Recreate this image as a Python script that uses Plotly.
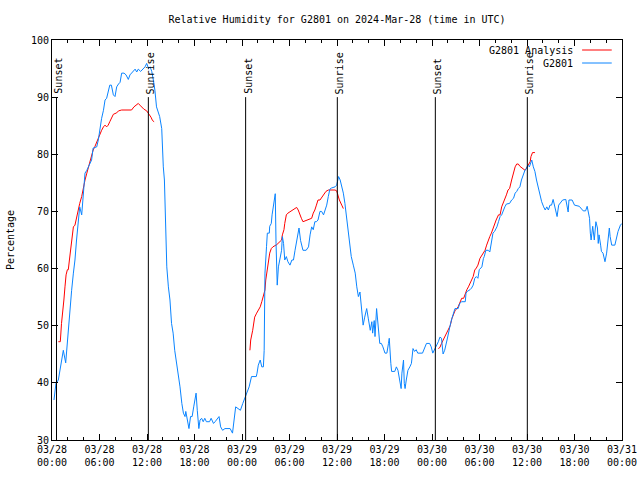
import pandas as pd
import plotly.graph_objects as go

# ---------------- data ----------------
START = "2024-03-28 00:00"

# G2801 observations: hours since 2024-03-28 00:00 UTC, relative humidity (%)
obs_hours = [
    0.25, 0.5, 0.8, 1.0, 1.43, 1.73, 1.85, 2.06, 2.27, 2.48, 2.7, 2.9, 3.1, 3.3, 3.5, 3.75, 3.95,
    4.17, 4.4, 4.8, 5.0, 5.2, 5.65, 5.85, 6.06, 6.27, 6.5, 6.7, 6.9, 7.1, 7.3, 7.5, 7.75, 7.96,
    8.17, 8.4, 8.6, 8.8, 9.1, 9.35, 9.64, 9.85, 10.2, 10.5, 10.7, 10.9, 11.2, 11.5, 11.75, 11.96,
    12.2, 12.4, 12.6, 12.8, 13.0, 13.2, 13.4, 13.6, 13.86, 13.93, 14.06, 14.2, 14.27, 14.36, 14.5,
    14.7, 14.9, 15.1, 15.3, 15.5, 15.75, 15.96, 16.17, 16.4, 16.6, 16.8, 16.9, 17.1, 17.3, 17.5,
    17.7, 17.9, 18.2, 18.35, 18.55, 18.7, 18.9, 19.1, 19.3, 19.5, 19.9, 20.1, 20.4, 20.6, 20.8,
    21.1, 21.3, 21.55, 21.85, 22.5, 22.8, 23.0, 23.2, 23.5, 23.8, 24.1, 24.4, 24.7, 24.9, 25.2,
    25.8, 25.9, 26.06, 26.3, 26.5, 26.7, 26.8, 26.9, 27.0, 27.1, 27.2, 27.45, 27.5, 27.7, 27.8,
    27.95, 28.1, 28.2, 28.3, 28.45, 28.6, 28.8, 29.0, 29.1, 29.25, 29.4, 29.6, 29.8, 30.06, 30.3,
    30.5, 30.7, 30.9, 31.1, 31.2, 31.4, 31.5, 31.7, 32.1, 32.4, 32.6, 32.8, 33.0, 33.2, 33.4, 33.6,
    33.85, 34.06, 34.3, 34.5, 34.7, 34.9, 35.1, 35.3, 35.75, 35.96, 36.2, 36.4, 36.6, 36.8, 37.0,
    37.2, 37.4, 37.6, 37.8, 38.06, 38.3, 38.5, 38.7, 38.9, 39.1, 39.3, 39.5, 39.75, 39.96, 40.2,
    40.4, 40.5, 40.7, 40.8, 41.0, 41.2, 41.4, 41.6, 41.8, 42.06, 42.3, 42.5, 42.6, 42.8, 42.9,
    43.3, 43.5, 43.7, 43.96, 44.1, 44.2, 44.4, 44.5, 44.6, 44.75, 44.96, 45.2, 45.4, 45.6, 45.8,
    46.0, 46.2, 46.8, 47.0, 47.3, 47.7, 47.9, 48.1, 48.4, 48.6, 48.8, 49.0, 49.2, 49.4, 49.6,
    49.9, 50.1, 50.3, 50.5, 50.7, 50.9, 51.3, 51.5, 51.75, 52.2, 52.3, 52.45, 52.8, 53.0, 53.2,
    53.4, 53.6, 53.8, 53.97, 54.3, 54.5, 54.6, 54.8, 55.1, 55.3, 55.5, 55.7, 55.9, 56.2, 56.4,
    56.6, 56.8, 57.0, 57.2, 57.4, 57.8, 58.06, 58.3, 58.5, 58.7, 58.9, 59.1, 59.3, 59.5, 59.75,
    59.9, 60.1, 60.3, 60.6, 60.8, 61.0, 61.2, 61.4, 61.6, 61.85, 62.1, 62.3, 62.5, 62.7, 62.9,
    63.1, 63.3, 63.5, 63.7, 63.8, 64.0, 64.5, 64.9, 65.1, 65.2, 65.3, 65.7, 66.0, 66.6, 67.1,
    67.4, 67.6, 67.7, 67.9, 68.0, 68.1, 68.3, 68.4, 68.5, 68.7, 68.9, 69.0, 69.1, 69.3, 69.4,
    69.6, 69.85, 70.06, 70.3, 70.4, 70.5, 70.7, 71.1, 71.3, 71.5, 71.8, 72.0,
]
obs_rh = [
    37.0, 39.9, 40.5, 42.2, 45.7, 43.5, 45.7, 48.7, 52.2, 56.2, 59.2, 61.5, 65.0, 68.5, 70.8, 69.4, 73.2,
    76.7, 77.2, 78.4, 79.0, 81.1, 81.3, 82.5, 84.8, 86.3, 87.7, 89.5, 89.8, 91.2, 92.1, 92.1, 90.4, 90.1,
    91.8, 92.3, 92.6, 94.2, 94.2, 93.9, 93.1, 93.9, 94.5, 94.9, 94.4, 94.9, 94.5, 95.0, 95.3, 95.9,
    95.0, 95.3, 94.5, 93.0, 91.2, 88.3, 87.4, 86.6, 84.5, 80.8, 77.8, 75.5, 70.8, 65.0, 60.3,
    56.8, 54.5, 50.4, 48.7, 45.7, 43.4, 41.7, 39.3, 36.4, 34.7, 34.1, 35.0, 33.5, 32.0, 34.1,
    34.1, 35.8, 38.2, 35.2, 32.0, 33.5, 33.8, 33.2, 33.8, 33.2, 33.2, 33.8, 32.9, 33.2, 33.5,
    34.1, 32.3, 31.7, 32.0, 32.0, 31.2, 33.5, 35.8, 35.5, 35.2, 36.4, 37.6, 38.4, 39.3, 41.1,
    41.1, 41.7, 43.1, 44.0, 42.8, 42.8, 45.7, 59.2, 60.9, 63.9, 66.2, 66.2, 67.4, 67.9, 69.4,
    70.8, 72.6, 73.1, 64.4, 57.1, 60.3, 61.5, 63.2, 65.6, 64.4, 61.5, 62.1, 61.2, 60.6, 61.5,
    61.5, 63.2, 64.9, 66.8, 67.1, 64.9, 64.1, 63.2, 63.2, 63.8, 65.9, 67.3, 66.8, 68.2, 68.2, 68.5,
    70.0, 70.0, 69.4, 70.25, 71.1, 72.6, 73.9, 74.1, 74.3, 74.6, 76.1, 75.5, 74.3, 73.2, 71.4,
    69.1, 66.2, 63.8, 62.1, 60.6, 59.2, 56.8, 55.1, 55.9, 52.2, 50.1, 51.5, 53.0, 51.2, 49.2,
    50.7, 48.7, 50.9, 48.1, 53.0, 49.8, 46.9, 46.9, 46.3, 45.2, 45.2, 46.9, 47.8, 43.4, 42.0,
    42.0, 42.8, 42.2, 40.5, 39.0, 41.7, 44.0, 39.9, 39.0, 40.5, 42.2, 42.8, 43.4, 46.0, 45.5,
    45.8, 45.2, 45.2, 46.0, 46.9, 46.9, 46.3, 45.2, 46.0, 46.6, 47.2, 48.0, 47.8, 45.05, 45.7,
    47.5, 49.0, 50.1, 51.2, 52.2, 53.0, 53.0, 53.9, 54.2, 54.2, 55.7, 56.0, 56.3, 56.6, 57.1,
    58.3, 58.6, 58.3, 59.8, 60.3, 61.8, 62.1, 63.2, 63.2, 62.9, 64.4, 66.2, 66.5, 67.3, 68.2,
    69.1, 69.4, 70.25, 70.8, 71.3, 71.4, 72.0, 72.3, 73.2, 73.5, 74.0, 74.3, 75.5, 76.4, 77.25,
    77.4, 78.1, 77.8, 79.0, 77.8, 77.0, 75.5, 74.3, 72.8, 71.7, 70.8, 70.25, 70.8, 70.25, 71.1,
    71.1, 72.1, 70.9, 69.4, 69.1, 71.1, 72.0, 72.1, 70.8, 69.9, 72.0, 72.0, 71.1, 70.9, 70.1,
    70.1, 70.9, 70.25, 68.8, 66.2, 65.0, 67.4, 66.2, 65.0, 68.2, 67.1, 64.4, 65.9, 64.1, 63.0,
    62.7, 61.2, 62.7, 66.2, 67.1, 65.6, 64.1, 64.1, 65.6, 66.5, 67.6, 67.9,
]

# G2801 Analysis: three separate segments (hours since start, RH %)
ana1_hours = [0.8, 1.05, 1.2, 1.35, 1.5, 1.64, 1.78, 1.94, 2.06, 2.2, 2.36, 2.5, 2.7, 2.9, 3.1, 3.3,
              3.5, 3.75, 3.96, 4.17, 4.4, 4.6, 4.8, 5.0, 5.2, 5.4, 5.65, 5.85, 6.06, 6.27, 6.5, 6.7,
              6.9, 7.1, 7.3, 7.5, 7.75, 8.17, 8.4, 8.8, 10.05, 10.35, 10.6, 10.9, 11.1, 11.3, 11.6,
              11.96, 12.2, 12.5, 12.7, 12.9]
ana1_rh = [47.2, 47.2, 50.4, 53.3, 54.5, 56.8, 58.9, 59.8, 59.8, 61.5, 63.5, 65.0, 67.3, 67.6, 69.1, 70.2,
           71.4, 72.6, 74.3, 75.5, 76.7, 77.8, 79.0, 79.6, 80.75, 81.3, 82.2, 82.8, 83.4, 84.2, 84.8, 85.1,
           84.8, 85.1, 85.7, 86.4, 87.0, 87.25, 87.6, 87.75, 87.75, 88.3, 88.6, 88.9, 88.6, 88.3, 87.9,
           87.6, 87.2, 86.5, 85.9, 85.7]
ana2_hours = [25.0, 25.1, 25.35, 25.5, 25.6, 25.85, 26.06, 26.3, 26.5, 26.7, 26.9, 27.0, 27.2, 27.3,
              27.5, 27.7, 27.9, 28.4, 28.8, 29.0, 29.1, 29.3, 29.4, 29.6, 29.8, 30.3, 30.7, 30.9, 31.1,
              31.3, 31.5, 31.7, 32.3, 32.8, 33.0, 33.2, 33.4, 33.6, 33.85, 34.06, 34.3, 34.6, 34.9,
              35.75, 35.96, 36.1, 36.3, 36.6, 36.8]
ana2_rh = [45.7, 47.5, 49.2, 50.7, 51.5, 52.2, 52.8, 53.3, 54.2, 55.1, 56.25, 58.0, 59.75, 60.9,
           62.7, 63.5, 63.8, 64.2, 64.7, 65.0, 65.9, 66.8, 67.9, 69.4, 69.7, 70.1, 70.5, 70.7, 70.25,
           69.4, 68.8, 68.2, 68.6, 68.8, 69.7, 70.25, 71.1, 72.0, 72.0, 72.4, 72.9, 73.5, 73.75,
           73.75, 73.6, 72.9, 72.0, 71.1, 70.5]
ana3_hours = [48.8, 49.0, 49.2, 49.4, 49.6, 49.85, 50.1, 50.3, 50.5, 50.7, 50.9, 51.3, 51.5, 51.75,
              52.0, 52.2, 52.4, 52.6, 52.8, 53.0, 53.2, 53.4, 53.6, 53.8, 54.06, 54.3, 54.5, 54.7,
              54.9, 55.1, 55.3, 55.5, 55.75, 55.9, 56.1, 56.4, 56.6, 56.8, 57.0, 57.2, 57.4, 57.6,
              57.8, 58.06, 58.3, 58.5, 58.7, 58.9, 59.1, 59.3, 59.5, 59.75, 59.9, 60.1, 60.4, 60.5,
              60.7, 61.0]
ana3_rh = [46.0, 46.2, 46.9, 47.5, 47.8, 48.7, 49.5, 50.0, 51.2, 51.8, 52.6, 53.3, 54.0, 54.8,
           54.8, 55.7, 56.3, 56.8, 57.3, 58.0, 58.6, 59.75, 60.1, 60.6, 61.8, 62.4, 62.7, 63.2,
           64.1, 65.0, 65.6, 66.2, 67.3, 67.9, 68.5, 69.4, 69.4, 70.8, 71.4, 72.0, 72.9, 73.75,
           74.0, 75.5, 76.7, 77.8, 78.3, 78.3, 77.9, 77.7, 77.5, 77.2, 77.5, 78.1, 78.7, 79.6,
           80.3, 80.3]

# Sun events (hours since start)
event_labels = ["Sunset", "Sunrise", "Sunset", "Sunrise", "Sunset", "Sunrise"]
event_hours = [0.57, 12.17, 24.46, 36.04, 48.42, 60.04]

title_text = "Relative Humidity for G2801 on 2024-Mar-28 (time in UTC)"
y_title = "Percentage"
legend_names = ["G2801 Analysis", "G2801"]
colors = ["#ff0000", "#0a84ff"]

# ---------------- build ----------------
base = pd.Timestamp(START)


def to_time(hours):
    return [base + pd.Timedelta(hours=h) for h in hours]


ana_x, ana_y = [], []
for hh, vv in [(ana1_hours, ana1_rh), (ana2_hours, ana2_rh), (ana3_hours, ana3_rh)]:
    ana_x += to_time(hh) + [None]
    ana_y += list(vv) + [None]

FONT = "DejaVu Sans Mono"
W, H = 640, 480

fig = go.Figure()
fig.add_trace(go.Scatter(x=ana_x, y=ana_y, mode="lines", name=legend_names[0],
                         line=dict(color=colors[0], width=1), connectgaps=False,
                         showlegend=False))
fig.add_trace(go.Scatter(x=to_time(obs_hours), y=obs_rh, mode="lines", name=legend_names[1],
                         line=dict(color=colors[1], width=1), showlegend=False))

for lab, h in zip(event_labels, event_hours):
    t = base + pd.Timedelta(hours=h)
    fig.add_shape(type="line", xref="x", yref="y", x0=t, x1=t, y0=30, y1=90,
                  line=dict(color="black", width=1))
    fig.add_annotation(x=t, y=90, xref="x", yref="y", text=lab, textangle=-90,
                       showarrow=False, xanchor="center", yanchor="bottom",
                       xshift=2, yshift=1, font=dict(family=FONT, size=10, color="black"))

# gnuplot-style legend: text right-aligned, sample line to its right
for i, (nm, c) in enumerate(zip(legend_names, colors)):
    yp = 0.975 - i * 0.0325
    fig.add_annotation(x=0.9175, y=yp, xref="paper", yref="paper", text=nm, showarrow=False,
                       xanchor="right", yanchor="middle",
                       font=dict(family=FONT, size=10, color="black"))
    fig.add_shape(type="line", xref="paper", yref="paper", x0=0.930, x1=0.982, y0=yp, y1=yp,
                  line=dict(color=c, width=1))

fig.update_layout(
    width=W, height=H,
    margin=dict(l=52, r=18, t=40, b=40, autoexpand=False),
    paper_bgcolor="white", plot_bgcolor="white",
    font=dict(family=FONT, size=10, color="black"),
    title=dict(text=title_text, x=0.5, xref="paper", xanchor="center",
               y=1 - 19 / H, yref="container", yanchor="middle",
               font=dict(family=FONT, size=10, color="black")),
)
fig.update_xaxes(
    range=[base, base + pd.Timedelta(hours=72)], automargin=False,
    type="date", tick0=base, dtick=6 * 3600 * 1000, tickformat="%m/%d<br>%H:%M",
    ticks="inside", ticklen=6, tickcolor="black", showgrid=False, zeroline=False,
    showline=True, linecolor="black", linewidth=1, mirror="ticks",
    minor=dict(dtick=2 * 3600 * 1000, ticks="inside", ticklen=3, tickcolor="black", showgrid=False),
    tickfont=dict(family=FONT, size=10, color="black"),
)
fig.update_yaxes(
    range=[30, 100], dtick=10, ticks="inside", ticklen=6, tickcolor="black", automargin=False,
    showgrid=False, zeroline=False, showline=True, linecolor="black", linewidth=1, mirror="ticks",
    tickfont=dict(family=FONT, size=10, color="black"),
    title=dict(text=y_title, standoff=14, font=dict(family=FONT, size=10, color="black")),
)

fig.write_html("out.html", config={"displayModeBar": False},
               post_script="document.body.style.margin='0';document.body.style.overflow='hidden';")
